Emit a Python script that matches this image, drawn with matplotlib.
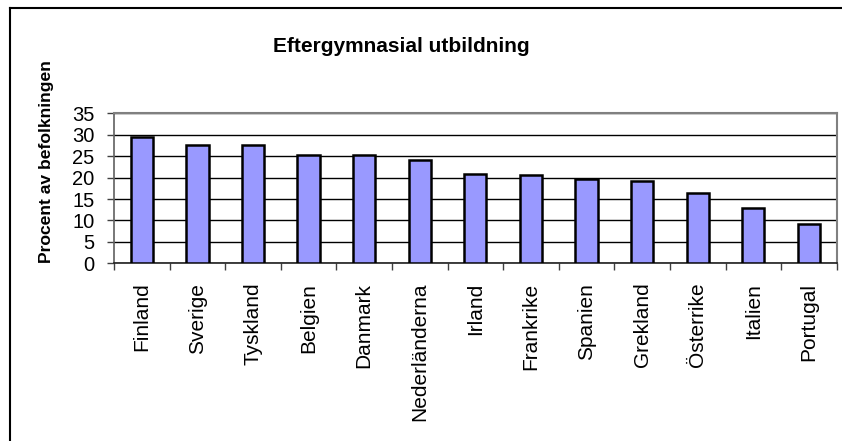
import matplotlib
matplotlib.use("Agg")
import matplotlib.pyplot as plt
from matplotlib.lines import Line2D
import numpy as np

# Data
countries = ["Finland", "Sverige", "Tyskland", "Belgien", "Danmark", "Nederländerna",
             "Irland", "Frankrike", "Spanien", "Grekland", "Österrike", "Italien", "Portugal"]
percent = [29.4, 27.7, 27.6, 25.2, 25.2, 24.0, 20.9, 20.5, 19.7, 19.3, 16.4, 12.9, 9.2]
yticks = [0, 5, 10, 15, 20, 25, 30, 35]

plt.rcParams["font.family"] = ["Liberation Sans", "DejaVu Sans"]

W, H = 842, 441
fig = plt.figure(figsize=(W / 100, H / 100), dpi=100)

# plot area in pixel coordinates
x0, x1 = 114, 836.7
ytop, ybot = 113.3, 263.3
ax = fig.add_axes([x0 / W, (H - ybot) / H, (x1 - x0) / W, (ybot - ytop) / H])

x = np.arange(len(countries))
ax.bar(x, percent, width=0.4, color="#9999FF", edgecolor="black", linewidth=1.8, zorder=3)

ax.set_xlim(-0.5, len(countries) - 0.5)
ax.set_ylim(0, 35)
ax.set_yticks(yticks)
ax.set_yticklabels([str(v) for v in yticks], fontsize=14.5)
ax.yaxis.grid(True, color="black", linewidth=1.0, zorder=0)

ax.set_xticks(x)
ax.set_xticklabels(countries, rotation=90, fontsize=15, va="top")
ax.tick_params(axis="x", which="major", length=0, pad=14)
ax.set_xticks(np.arange(len(countries) + 1) - 0.5, minor=True)
ax.tick_params(axis="x", which="minor", length=5, width=1, direction="out", color="#404040")
ax.tick_params(axis="y", length=5, width=1, direction="out", pad=9, color="#404040")

for side in ("top", "right"):
    ax.spines[side].set_color("#808080")
    ax.spines[side].set_linewidth(1.5)
ax.spines["left"].set_color("#606060")
ax.spines["left"].set_linewidth(1.2)
ax.spines["bottom"].set_color("#202020")
ax.spines["bottom"].set_linewidth(1.2)

fig.text(401 / W, 1 - 46 / H, "Eftergymnasial utbildning", fontsize=15,
         fontweight="bold", ha="center", va="center")
fig.text(47 / W, 1 - 162 / H, "Procent av befolkningen", fontsize=12.6,
         fontweight="bold", rotation=90, ha="center", va="center")

# outer chart frame (only left and top visible)
fig.add_artist(Line2D([10 / W, 10 / W], [0, 1 - 8 / H], transform=fig.transFigure,
                      color="black", linewidth=1.5))
fig.add_artist(Line2D([10 / W, 1], [1 - 8 / H, 1 - 8 / H], transform=fig.transFigure,
                      color="black", linewidth=1.5))

fig.savefig("out.png", dpi=100)
